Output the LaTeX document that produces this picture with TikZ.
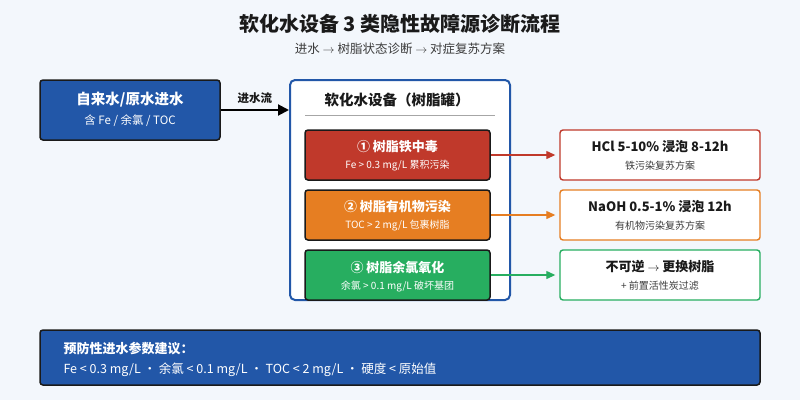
\documentclass[tikz,border=0pt]{standalone}
\usepackage{fontspec}
\setmainfont{Noto Sans CJK SC}
\usetikzlibrary{arrows.meta}
\definecolor{bg}{HTML}{F3F7FC}
\definecolor{blu}{HTML}{2257A8}
\definecolor{dk}{HTML}{1A1A1A}
\definecolor{rd}{HTML}{C0392B}
\definecolor{og}{HTML}{E67E22}
\definecolor{gn}{HTML}{27AE60}
\begin{document}
\begin{tikzpicture}[x=1pt,y=-1pt,
 fbox/.style={draw=dk,line width=1.5pt,rounded corners=3pt},
 inner/.style={fbox,minimum width=185pt,minimum height=50pt},
 rbox/.style={draw=#1,line width=1.4pt,fill=white,rounded corners=3pt,minimum width=200pt,minimum height=50pt},
 carrow/.style={draw=#1,line width=1.2pt,shorten >=4pt,-{Triangle[length=9pt,width=8pt]}},
 ttl/.style={font=\bfseries\fontsize{13}{15}\selectfont},
 sub/.style={font=\fontsize{10}{12}\selectfont}]
\useasboundingbox (0,0) rectangle (800,400);
\fill[bg] (0,0) rectangle (800,400);
\node[font=\bfseries\fontsize{20}{24}\selectfont,text=dk] (title) at (400,24) {软化水设备 3 类隐性故障源诊断流程};
\node[font=\fontsize{12.5}{15}\selectfont,text=dk!85] (st) at (400,49) {进水 $\rightarrow$ 树脂状态诊断 $\rightarrow$ 对症复苏方案};
% left
\node[fbox,fill=blu,minimum width=180pt,minimum height=60pt] (src) at (130,110) {};
\node[text=white,font=\bfseries\fontsize{14.5}{17}\selectfont] (srct) at (130,100) {自来水/原水进水};
\node[text=white,font=\fontsize{11.5}{13}\selectfont] (srcs) at (130,121) {含 Fe / 余氯 / TOC};
% big box
\node[draw=blu,line width=2pt,fill=white,rounded corners=5pt,minimum width=220pt,minimum height=220pt] (tank) at (400,190) {};
\node[font=\bfseries\fontsize{14.5}{17}\selectfont,text=dk] (tankt) at (397,100) {软化水设备（树脂罐）};
\draw[gray!70,line width=1pt] (305,115) -- (495,115);
\draw[line width=2pt,-{Triangle[length=11pt,width=11pt]}] (src.east) -- (tank.west |- src.east) node[midway,above=2pt,font=\bfseries\fontsize{11.5}{13}\selectfont,text=dk] {进水流};
% inner
\node[inner,fill=rd] (a) at (397.5,155) {};
\node[inner,fill=og] (b) at (397.5,215) {};
\node[inner,fill=gn] (c) at (397.5,275) {};
\node[text=white,ttl] at (397.5,147) {① 树脂铁中毒};
\node[text=white,sub] at (397.5,166) {Fe > 0.3 mg/L 累积污染};
\node[text=white,ttl] at (397.5,207) {② 树脂有机物污染};
\node[text=white,sub] at (397.5,226) {TOC > 2 mg/L 包裹树脂};
\node[text=white,ttl] at (397.5,267) {③ 树脂余氯氧化};
\node[text=white,sub] at (397.5,286) {余氯 > 0.1 mg/L 破坏基团};
% right
\node[rbox=rd] (ra) at (660,155) {};
\node[rbox=og] (rb) at (660,215) {};
\node[rbox=gn] (rc) at (660,275) {};
\node[ttl,text=dk] at (660,147) {HCl 5-10\% 浸泡 8-12h};
\node[sub,text=dk!85] at (660,166) {铁污染复苏方案};
\node[ttl,text=dk] at (660,207) {NaOH 0.5-1\% 浸泡 12h};
\node[sub,text=dk!85] at (660,226) {有机物污染复苏方案};
\node[ttl,text=dk] at (660,267) {不可逆 $\rightarrow$ 更换树脂};
\node[sub,text=dk!85] at (660,286) {+ 前置活性炭过滤};
\draw[carrow=rd] (a.east) -- (ra.west);
\draw[carrow=og] (b.east) -- (rb.west);
\draw[carrow=gn] (c.east) -- (rc.west);
% bottom
\node[fbox,fill=blu,minimum width=720pt,minimum height=55pt] (bot) at (400,357.5) {};
\node[anchor=west,text=white,font=\bfseries\fontsize{13}{15}\selectfont] at (60,349) {预防性进水参数建议：};
\node[anchor=west,text=white,font=\fontsize{12.5}{15}\selectfont] at (60,370) {Fe < 0.3 mg/L · 余氯 < 0.1 mg/L · TOC < 2 mg/L · 硬度 < 原始值};
\end{tikzpicture}
\end{document}
